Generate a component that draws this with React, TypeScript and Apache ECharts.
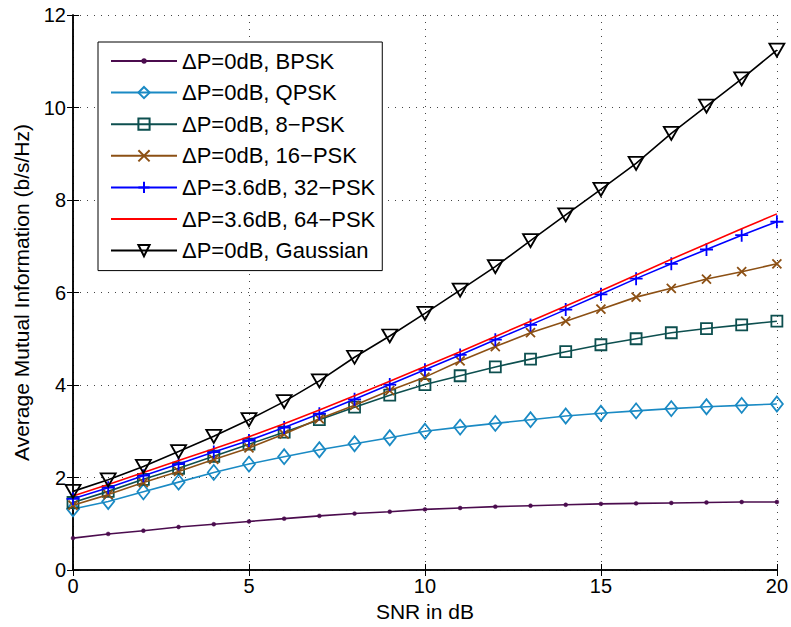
import React, { useEffect, useRef } from "react";
import * as echarts from "echarts";

const snr = Array.from({ length: 21 }, (_, i) => i);
const xTicks = [0, 5, 10, 15, 20];
const yTicks = [0, 2, 4, 6, 8, 10, 12];

const names = [
  "ΔP=0dB, BPSK",
  "ΔP=0dB, QPSK",
  "ΔP=0dB, 8−PSK",
  "ΔP=0dB, 16−PSK",
  "ΔP=3.6dB, 32−PSK",
  "ΔP=3.6dB, 64−PSK",
  "ΔP=0dB, Gaussian",
];

const bpsk = [0.69, 0.78, 0.85, 0.93, 0.99, 1.05, 1.11, 1.17, 1.22, 1.26, 1.31, 1.34, 1.37, 1.39, 1.41, 1.43, 1.44, 1.45, 1.46, 1.47, 1.47];
const qpsk = [1.32, 1.48, 1.69, 1.9, 2.11, 2.29, 2.45, 2.6, 2.73, 2.86, 3.0, 3.09, 3.17, 3.25, 3.33, 3.39, 3.44, 3.49, 3.53, 3.56, 3.59];
const psk8 = [1.46, 1.7, 1.96, 2.2, 2.46, 2.72, 2.98, 3.25, 3.52, 3.78, 4.01, 4.2, 4.39, 4.56, 4.72, 4.87, 5.0, 5.13, 5.22, 5.3, 5.38];
const psk16 = [1.4, 1.63, 1.89, 2.13, 2.39, 2.64, 2.94, 3.27, 3.56, 3.88, 4.17, 4.52, 4.83, 5.13, 5.38, 5.64, 5.9, 6.09, 6.29, 6.45, 6.62];
const psk32 = [1.54, 1.78, 2.04, 2.29, 2.55, 2.8, 3.08, 3.38, 3.69, 4.01, 4.33, 4.65, 4.98, 5.3, 5.63, 5.96, 6.3, 6.62, 6.93, 7.24, 7.53];
const psk64 = [1.6, 1.85, 2.11, 2.37, 2.62, 2.88, 3.16, 3.46, 3.77, 4.08, 4.4, 4.72, 5.05, 5.38, 5.71, 6.04, 6.38, 6.72, 7.05, 7.38, 7.7];
const gaussian = [1.7, 1.95, 2.24, 2.56, 2.89, 3.25, 3.64, 4.09, 4.6, 5.06, 5.55, 6.05, 6.56, 7.12, 7.68, 8.23, 8.79, 9.44, 10.03, 10.62, 11.24];

const seriesValues = [bpsk, qpsk, psk8, psk16, psk32, psk64, gaussian];
const colors = ["#4b0c4e", "#1a8ac4", "#0d4f4f", "#8c5014", "#0000ff", "#ff0000", "#000000"];

const DOT = "path://M0,0M10,10M3.5,5a1.5,1.5 0 1,0 3,0a1.5,1.5 0 1,0 -3,0Z";
const CROSS = "path://M0,0L10,10M10,0L0,10";
const PLUS = "path://M5,0L5,10M0,5L10,5";

const markers: any[] = [
  { symbol: DOT, size: 13, filled: true },
  { symbol: "diamond", size: [12, 15], filled: false },
  { symbol: "rect", size: 11, filled: false },
  { symbol: CROSS, size: 9, filled: false },
  { symbol: PLUS, size: 13, filled: false },
  { symbol: "circle", size: 0, filled: false, hidden: true },
  { symbol: "triangle", size: [15, 13], filled: false, rotate: 180 },
];

export default function App() {
  const ref = useRef<HTMLDivElement>(null);
  useEffect(() => {
    if (!ref.current) return;
    const chart = echarts.init(ref.current, undefined, { renderer: "svg" });
    const font = "Liberation Sans, Arial, Helvetica, sans-serif";
    const series = names.map((name, i) => {
      const m = markers[i];
      const c = colors[i];
      let itemStyle: any;
      if (m.hidden) itemStyle = { color: "rgba(0,0,0,0)", borderColor: "rgba(0,0,0,0)", borderWidth: 0 };
      else if (m.filled) itemStyle = { color: c, borderColor: c, borderWidth: 0.5 };
      else itemStyle = { color: "rgba(255,255,255,0)", borderColor: c, borderWidth: 1.8 };
      return {
        name,
        type: "line",
        data: snr.map((x, k) => [x, seriesValues[i][k]]),
        color: c,
        symbol: m.symbol,
        symbolSize: m.size,
        symbolRotate: m.rotate || 0,
        showSymbol: !m.hidden,
        z: 2 + i,
        lineStyle: { color: c, width: 1.6 },
        itemStyle,
        emphasis: { disabled: true },
      };
    });
    chart.setOption({
      animation: false,
      backgroundColor: "#ffffff",
      textStyle: { fontFamily: font },
      grid: { left: 73, right: 14, top: 15, bottom: 57, containLabel: false },
      legend: {
        data: names,
        orient: "vertical",
        left: 98,
        top: 42,
        itemWidth: 66,
        itemHeight: 14,
        itemGap: 7.6,
        padding: [7, 7, 8, 12],
        backgroundColor: "#ffffff",
        borderColor: "#000000",
        borderWidth: 1,
        textStyle: { fontSize: 22, color: "#000", lineHeight: 24, fontFamily: font },
        selectedMode: false,
      },
      xAxis: [
        {
          type: "value",
          min: 0,
          max: 20,
          interval: 5,
          name: "SNR in dB",
          nameLocation: "middle",
          nameGap: 28,
          nameTextStyle: { fontSize: 21, color: "#000", fontFamily: font },
          axisLine: { lineStyle: { color: "#000", width: 1.5 } },
          axisTick: { inside: true, length: 6, lineStyle: { color: "#000" } },
          axisLabel: { fontSize: 20, color: "#000", margin: 6, fontFamily: font,
            formatter: (v: number) => (xTicks.includes(v) ? String(v) : "") },
          splitLine: { show: true, lineStyle: { color: "#444", type: [1, 6], width: 1 } },
        },
        {
          type: "value",
          position: "top",
          min: 0,
          max: 20,
          interval: 5,
          axisLine: { show: true, lineStyle: { color: "#000", width: 1.5 } },
          axisTick: { inside: true, length: 6, lineStyle: { color: "#000" } },
          axisLabel: { show: false },
          splitLine: { show: false },
        },
      ],
      yAxis: [
        {
          type: "value",
          min: 0,
          max: 12,
          interval: 2,
          name: "Average Mutual Information (b/s/Hz)",
          nameLocation: "middle",
          nameGap: 41,
          nameTextStyle: { fontSize: 21, color: "#000", fontFamily: font },
          axisLine: { show: true, lineStyle: { color: "#000", width: 1.5 } },
          axisTick: { show: true, inside: true, length: 6, lineStyle: { color: "#000" } },
          axisLabel: { fontSize: 20, color: "#000", margin: 7, fontFamily: font,
            formatter: (v: number) => (yTicks.includes(v) ? String(v) : "") },
          splitLine: { show: true, lineStyle: { color: "#444", type: [1, 6], width: 1 } },
        },
        {
          type: "value",
          position: "right",
          min: 0,
          max: 12,
          interval: 2,
          axisLine: { show: true, lineStyle: { color: "#000", width: 1.5 } },
          axisTick: { show: true, inside: true, length: 6, lineStyle: { color: "#000" } },
          axisLabel: { show: false },
          splitLine: { show: false },
        },
      ],
      series,
    });
    return () => chart.dispose();
  }, []);
  return (
    <div
      ref={ref}
      style={{ position: "fixed", left: 0, top: 0, width: 791, height: 627, background: "#fff" }}
    />
  );
}
